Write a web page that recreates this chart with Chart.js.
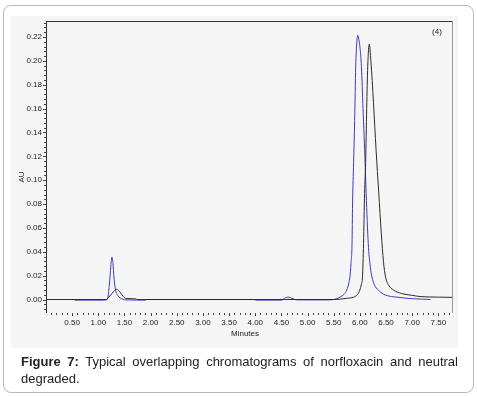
<!DOCTYPE html>
<html>
<head>
<meta charset="utf-8">
<script src="https://cdn.jsdelivr.net/npm/chart.js@4/dist/chart.umd.min.js"></script>
<style>
  html, body { margin: 0; padding: 0; background: #ffffff; }
  body { width: 477px; height: 396px; position: relative; overflow: hidden; }
  #frame { position: absolute; left: 3px; top: 5px; width: 469px; height: 386px;
           border: 1.5px solid #b9b9b9; border-radius: 8px; }
  #panel { position: absolute; left: 11px; top: 16px; width: 447px; height: 332px; background: #f5f5f5; }
  #chartWrap { position: absolute; left: 0; top: 0; width: 477px; height: 396px; }
  #caption { position: absolute; left: 21px; top: 353px; width: 437px;
             font-family: "Liberation Sans", Arial, sans-serif; font-size: 13px; line-height: 17px;
             color: #222; text-align: justify; }
</style>
</head>
<body>
<div id="frame"></div>
<div id="panel"></div>
<div id="chartWrap"><canvas id="c" width="477" height="396"></canvas></div>
<div id="caption"><b>Figure 7:</b> Typical overlapping chromatograms of norfloxacin and neutral degraded.</div>
<script>
// ---- data ----
const blueTime = [0.55, 1.10, 1.17, 1.21, 1.24, 1.26, 1.28, 1.30, 1.33, 1.38, 1.45, 1.55, 1.90, 1.92, 3.98, 4.02,
  4.50, 4.58, 4.64, 4.70, 4.80, 5.40, 5.55, 5.62, 5.70, 5.75, 5.79, 5.81, 5.83, 5.85, 5.86, 5.88, 5.90, 5.92,
  5.94, 5.96, 5.98, 6.00, 6.03, 6.06, 6.10, 6.12, 6.16, 6.20, 6.23, 6.28, 6.35, 6.45, 6.60, 6.71, 6.90, 7.20, 7.35];
const blueAU = [-0.0005, -0.0005, 0.000, 0.012, 0.028, 0.0355, 0.030, 0.018, 0.008, 0.003, 0.0005, -0.0003, -0.0005, 0.0, 0.0, -0.0005,
  -0.0005, 0.0015, 0.0020, 0.0010, -0.0003, -0.0003, 0.0005, 0.0020, 0.0045, 0.008, 0.014, 0.019, 0.030, 0.047, 0.080, 0.115, 0.150, 0.195,
  0.215, 0.2215, 0.218, 0.212, 0.195, 0.160, 0.115, 0.089, 0.047, 0.027, 0.019, 0.012, 0.008, 0.0045, 0.0025, 0.002, 0.001, 0.0003, 0.0];

const blackTime = [0.00, 1.15, 1.20, 1.26, 1.31, 1.35, 1.40, 1.45, 1.50, 1.55, 1.70, 1.75, 5.50, 5.75, 5.88, 5.95,
  6.00, 6.03, 6.05, 6.07, 6.09, 6.11, 6.13, 6.15, 6.18, 6.21, 6.26, 6.31, 6.36, 6.41, 6.45, 6.49, 6.55,
  6.64, 6.80, 7.00, 7.15, 7.50, 7.76];
const blackAU = [0.0, 0.0, 0.002, 0.005, 0.0075, 0.0085, 0.007, 0.004, 0.0015, 0.0008, 0.0006, 0.0, 0.0, 0.001, 0.002, 0.004,
  0.008, 0.013, 0.019, 0.047, 0.089, 0.115, 0.160, 0.195, 0.214, 0.200, 0.165, 0.125, 0.090, 0.055, 0.032, 0.019, 0.012,
  0.008, 0.005, 0.0035, 0.0025, 0.002, 0.0018];

const xTickLabels = ['0.50','1.00','1.50','2.00','2.50','3.00','3.50','4.00','4.50','5.00','5.50','6.00','6.50','7.00','7.50'];
const yTickLabels = ['0.00','0.02','0.04','0.06','0.08','0.10','0.12','0.14','0.16','0.18','0.20','0.22'];
const xTitle = 'Minutes';
const yTitle = 'AU';
const panelTag = '(4)';

const X_MIN = 0, X_MAX = 7.78, Y_MIN = -0.0113, Y_MAX = 0.2334;
const FONT = '"Liberation Sans", Arial, sans-serif';

const toPts = (t, v) => t.map((x, i) => ({ x: x, y: v[i] }));

const framePlugin = {
  id: 'frame',
  afterDatasetsDraw(chart) {
    const { ctx, chartArea: { left, top, right, bottom }, scales: { x, y } } = chart;
    ctx.save();
    ctx.lineWidth = 1;
    ctx.strokeStyle = '#333';
    ctx.beginPath(); ctx.moveTo(left, top + 0.5); ctx.lineTo(right, top + 0.5); ctx.stroke();
    ctx.beginPath(); ctx.moveTo(left + 0.5, top); ctx.lineTo(left + 0.5, bottom); ctx.stroke();
    ctx.strokeStyle = '#9a9a9a';
    ctx.beginPath(); ctx.moveTo(right - 0.5, top); ctx.lineTo(right - 0.5, bottom); ctx.stroke();
    ctx.strokeStyle = '#444';
    for (let i = 1; i * 0.1 <= X_MAX + 1e-9; i++) {
      const px = Math.round(x.getPixelForValue(i * 0.1)) + 0.5;
      const len = (i % 5 === 0) ? 3 : 2;
      ctx.beginPath(); ctx.moveTo(px, bottom); ctx.lineTo(px, bottom + len); ctx.stroke();
    }
    for (let i = -2; i * 0.004 <= Y_MAX + 1e-9; i++) {
      const v = i * 0.004;
      if (v < Y_MIN) continue;
      const py = Math.round(y.getPixelForValue(v)) + 0.5;
      ctx.beginPath(); ctx.moveTo(left, py); ctx.lineTo(left - 2, py); ctx.stroke();
    }
    for (const lab of yTickLabels) {
      const py = Math.round(y.getPixelForValue(parseFloat(lab))) + 0.5;
      ctx.beginPath(); ctx.moveTo(left, py); ctx.lineTo(left - 3, py); ctx.stroke();
    }
    ctx.fillStyle = '#222';
    ctx.font = '8px ' + FONT;
    ctx.textAlign = 'center'; ctx.textBaseline = 'middle';
    ctx.fillText(xTitle, 245, 334);
    ctx.fillText(panelTag, 437, 32);
    ctx.save();
    ctx.translate(22, 177); ctx.rotate(-Math.PI / 2);
    ctx.fillText(yTitle, 0, 0);
    ctx.restore();
    ctx.restore();
  }
};

new Chart(document.getElementById('c'), {
  type: 'line',
  data: {
    datasets: [
      { label: 'neutral degraded', data: toPts(blackTime, blackAU), borderColor: '#2b2b2b', borderWidth: 1,
        pointRadius: 0, cubicInterpolationMode: 'monotone', fill: false, order: 0 },
      { label: 'norfloxacin', data: toPts(blueTime, blueAU), borderColor: '#3c3cc0', borderWidth: 1,
        pointRadius: 0, cubicInterpolationMode: 'monotone', fill: false, order: 1 }
    ]
  },
  options: {
    responsive: false,
    animation: false,
    events: [],
    layout: { padding: { left: 0, top: 21, right: 24, bottom: 53 } },
    plugins: { legend: { display: false }, tooltip: { enabled: false }, title: { display: false } },
    scales: {
      x: {
        type: 'linear', min: X_MIN, max: X_MAX,
        grid: { display: false, drawTicks: false },
        border: { display: false },
        afterBuildTicks: (s) => { s.ticks = xTickLabels.map(v => ({ value: parseFloat(v) })); },
        afterFit: (s) => { s.height = 30; },
        ticks: { autoSkip: false, maxRotation: 0, padding: 5, color: '#222', font: { family: FONT, size: 8 },
                 callback: (v) => Number(v).toFixed(2) }
      },
      y: {
        type: 'linear', min: Y_MIN, max: Y_MAX,
        grid: { display: false, drawTicks: false },
        border: { display: false },
        afterBuildTicks: (s) => { s.ticks = yTickLabels.map(v => ({ value: parseFloat(v) })); },
        afterFit: (s) => { s.width = 46; },
        ticks: { autoSkip: false, padding: 4, color: '#222', font: { family: FONT, size: 8 },
                 callback: (v) => Number(v).toFixed(2) }
      }
    }
  },
  plugins: [framePlugin]
});
</script>
</body>
</html>
